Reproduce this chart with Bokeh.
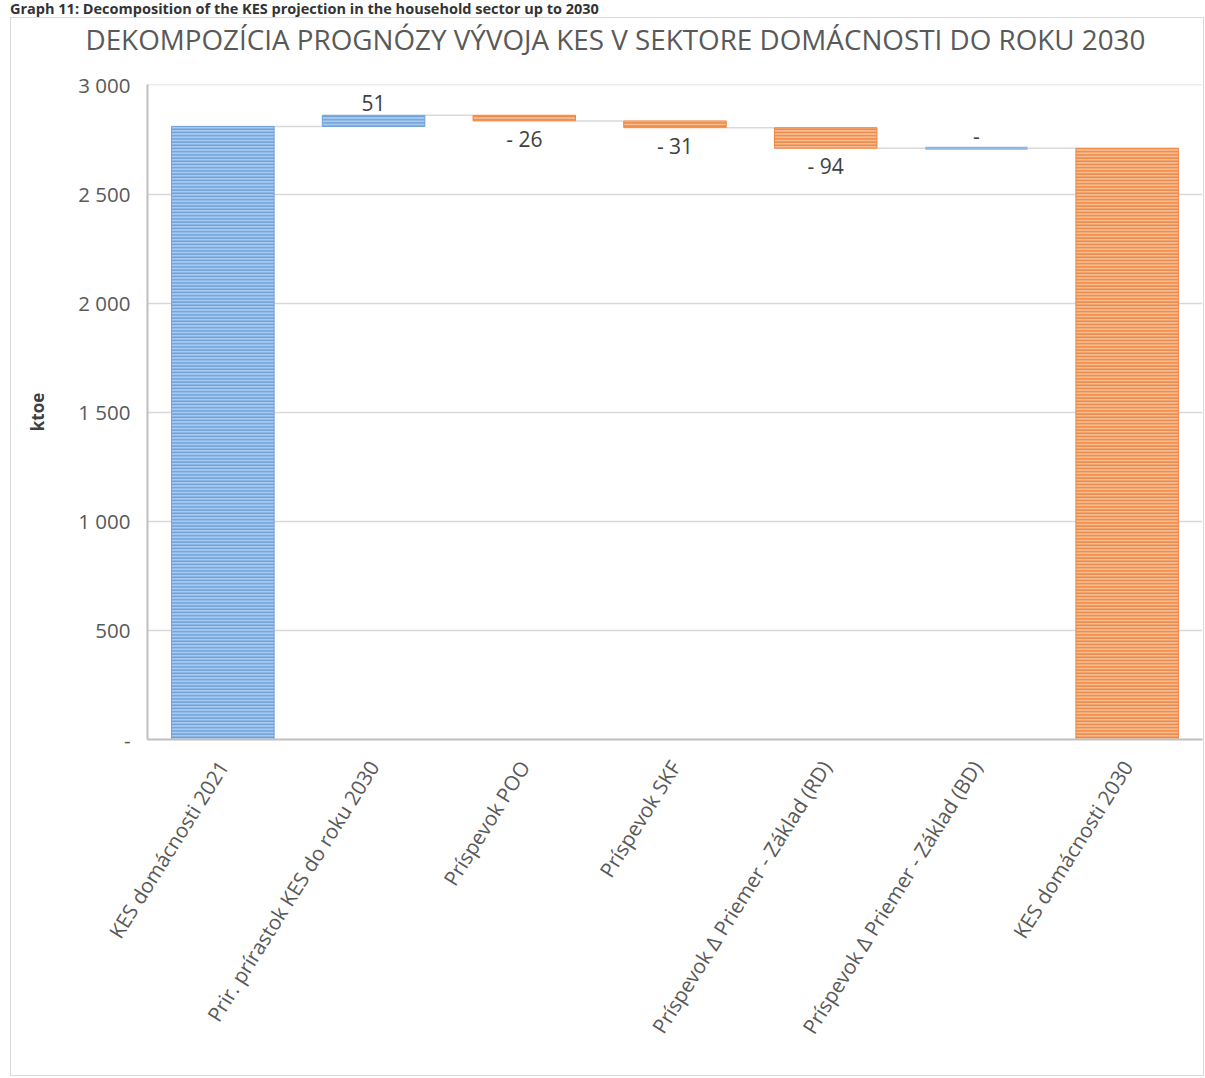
from bokeh.plotting import figure
from bokeh.models import ColumnDataSource, Range1d, FixedTicker, Div, LabelSet, Title
from bokeh.layouts import column
from bokeh.embed import file_html
from bokeh.resources import INLINE
from bokeh.core.properties import value

# ---- data ----
caption = "Graph 11: Decomposition of the KES projection in the household sector up to 2030"
title_text = "DEKOMPOZÍCIA PROGNÓZY VÝVOJA KES V SEKTORE DOMÁCNOSTI DO ROKU 2030"
categories = [
    "KES domácnosti 2021",
    "Prir. prírastok KES do roku 2030",
    "Príspevok POO",
    "Príspevok SKF",
    "Príspevok Δ Priemer - Základ (RD)",
    "Príspevok Δ Priemer - Základ (BD)",
    "KES domácnosti 2030",
]
start_value = 2810
deltas = [51, -26, -31, -94, 0]
y_ticks = [0, 500, 1000, 1500, 2000, 2500, 3000]
y_tick_labels = ["-", "500", "1 000", "1 500", "2 000", "2 500", "3 000"]
y_label = "ktoe"

# ---- styles ----
BLUE_F, BLUE_H = "#A9CAEE", "#6CA0D9"
ORANGE_F, ORANGE_H = "#F6BC93", "#EE8640"

# ---- waterfall geometry from data ----
n = len(categories)
xs = list(range(1, n + 1))
bottoms, tops, fills, hatches = [0], [start_value], [BLUE_F], [BLUE_H]
level = start_value
levels = [level]
for d in deltas:
    new = level + d
    bottoms.append(min(level, new)); tops.append(max(level, new))
    if d < 0:
        fills.append(ORANGE_F); hatches.append(ORANGE_H)
    else:
        fills.append(BLUE_F); hatches.append(BLUE_H)
    level = new
    levels.append(level)
end_value = level
bottoms.append(0); tops.append(end_value); fills.append(ORANGE_F); hatches.append(ORANGE_H)

W = 0.68
p = figure(width=1194, height=1059, output_backend="svg", toolbar_location=None,
           x_range=Range1d(0.5, n + 0.5), y_range=Range1d(0, 3002),
           min_border_left=136, min_border_right=3, min_border_bottom=338, min_border_top=66,
           styles={"border": "1px solid #D9D9D9"})
p.outline_line_color = None
p.background_fill_color = "white"

# connectors
cx0 = [x + W / 2 for x in xs[:-1]]
cx1 = [x + 1 - W / 2 for x in xs[:-1]]
p.segment(x0=cx0, x1=cx1, y0=levels, y1=levels, line_color="#D9D9D9", line_width=1.5)

# bars
nonzero = [i for i in range(n) if tops[i] != bottoms[i]]
zero = [i for i in range(n) if tops[i] == bottoms[i]]
p.vbar(x=[xs[i] for i in nonzero], bottom=[bottoms[i] for i in nonzero], top=[tops[i] for i in nonzero],
       width=W, fill_color=[fills[i] for i in nonzero], line_color=[hatches[i] for i in nonzero],
       line_width=1, hatch_pattern="horizontal_line", hatch_color=[hatches[i] for i in nonzero],
       hatch_scale=3.2, hatch_weight=1.6)
p.segment(x0=[xs[i] - W / 2 for i in zero], x1=[xs[i] + W / 2 for i in zero],
          y0=[tops[i] for i in zero], y1=[tops[i] for i in zero], line_color="#8DB8E6", line_width=3)

# data labels
def fmt(v):
    if v == 0:
        return "-"
    if v < 0:
        return "- " + str(abs(v))
    return str(v)

up_x, up_y, up_t, dn_x, dn_y, dn_t = [], [], [], [], [], []
for i, d in enumerate(deltas):
    idx = i + 1
    if d >= 0:
        up_x.append(xs[idx]); up_y.append(tops[idx]); up_t.append(fmt(d))
    else:
        dn_x.append(xs[idx]); dn_y.append(bottoms[idx]); dn_t.append(fmt(d))

p.add_layout(LabelSet(x="x", y="y", text="t", source=ColumnDataSource(dict(x=up_x, y=up_y, t=up_t)),
                      y_offset=4, text_align="center", text_baseline="bottom",
                      text_font=value("Open Sans"), text_font_size="21px", text_color="#404040"))
p.add_layout(LabelSet(x="x", y="y", text="t", source=ColumnDataSource(dict(x=dn_x, y=dn_y, t=dn_t)),
                      y_offset=-4, text_align="center", text_baseline="top",
                      text_font=value("Open Sans"), text_font_size="21px", text_color="#404040"))

# spacer between title and frame
p.add_layout(Title(text=" ", text_font_size="1px", standoff=22), "above")

# title
p.title.text = title_text
p.title.align = "left"
p.title.offset = -62
p.title.vertical_align = "top"
p.title.standoff = 0
p.title.text_font = "Open Sans"
p.title.text_font_style = "normal"
p.title.text_font_size = "27.8px"
p.title.text_color = "#595959"

# axes
p.yaxis.ticker = FixedTicker(ticks=y_ticks)
p.yaxis.major_label_overrides = {t: l for t, l in zip(y_ticks, y_tick_labels)}
p.xaxis.ticker = FixedTicker(ticks=xs)
p.xaxis.major_label_overrides = {x: c for x, c in zip(xs, categories)}
p.xaxis.major_label_orientation = 1.01
for ax in (p.xaxis, p.yaxis):
    ax.axis_line_color = "#BFBFBF"
    ax.axis_line_width = 2
    ax.major_tick_line_color = None
    ax.minor_tick_line_color = None
    ax.major_label_text_font = "Open Sans"
    ax.major_label_text_color = "#595959"
p.yaxis.major_label_text_font_size = "20.5px"
p.xaxis.major_label_text_font_size = "20.5px"
p.yaxis.major_label_standoff = 11
p.xaxis.major_label_standoff = 17
p.yaxis.axis_label = y_label
p.yaxis.axis_label_text_font = "Open Sans"
p.yaxis.axis_label_text_font_style = "bold"
p.yaxis.axis_label_text_font_size = "17px"
p.yaxis.axis_label_text_color = "#404040"
p.yaxis.axis_label_standoff = 26
p.xgrid.grid_line_color = None
p.ygrid.grid_line_color = "#D9D9D9"
p.ygrid.grid_line_width = 1.5

cap = Div(text=caption, width=1194, height=17, margin=(0, 0, 0, 0),
          styles={"font-family": "Open Sans", "font-weight": "bold", "font-size": "14.5px",
                  "color": "#333333", "line-height": "17px"})
layout = column(cap, p, spacing=0, margin=(0, 0, 0, 10))
open("out.html", "w").write(file_html(layout, INLINE))
